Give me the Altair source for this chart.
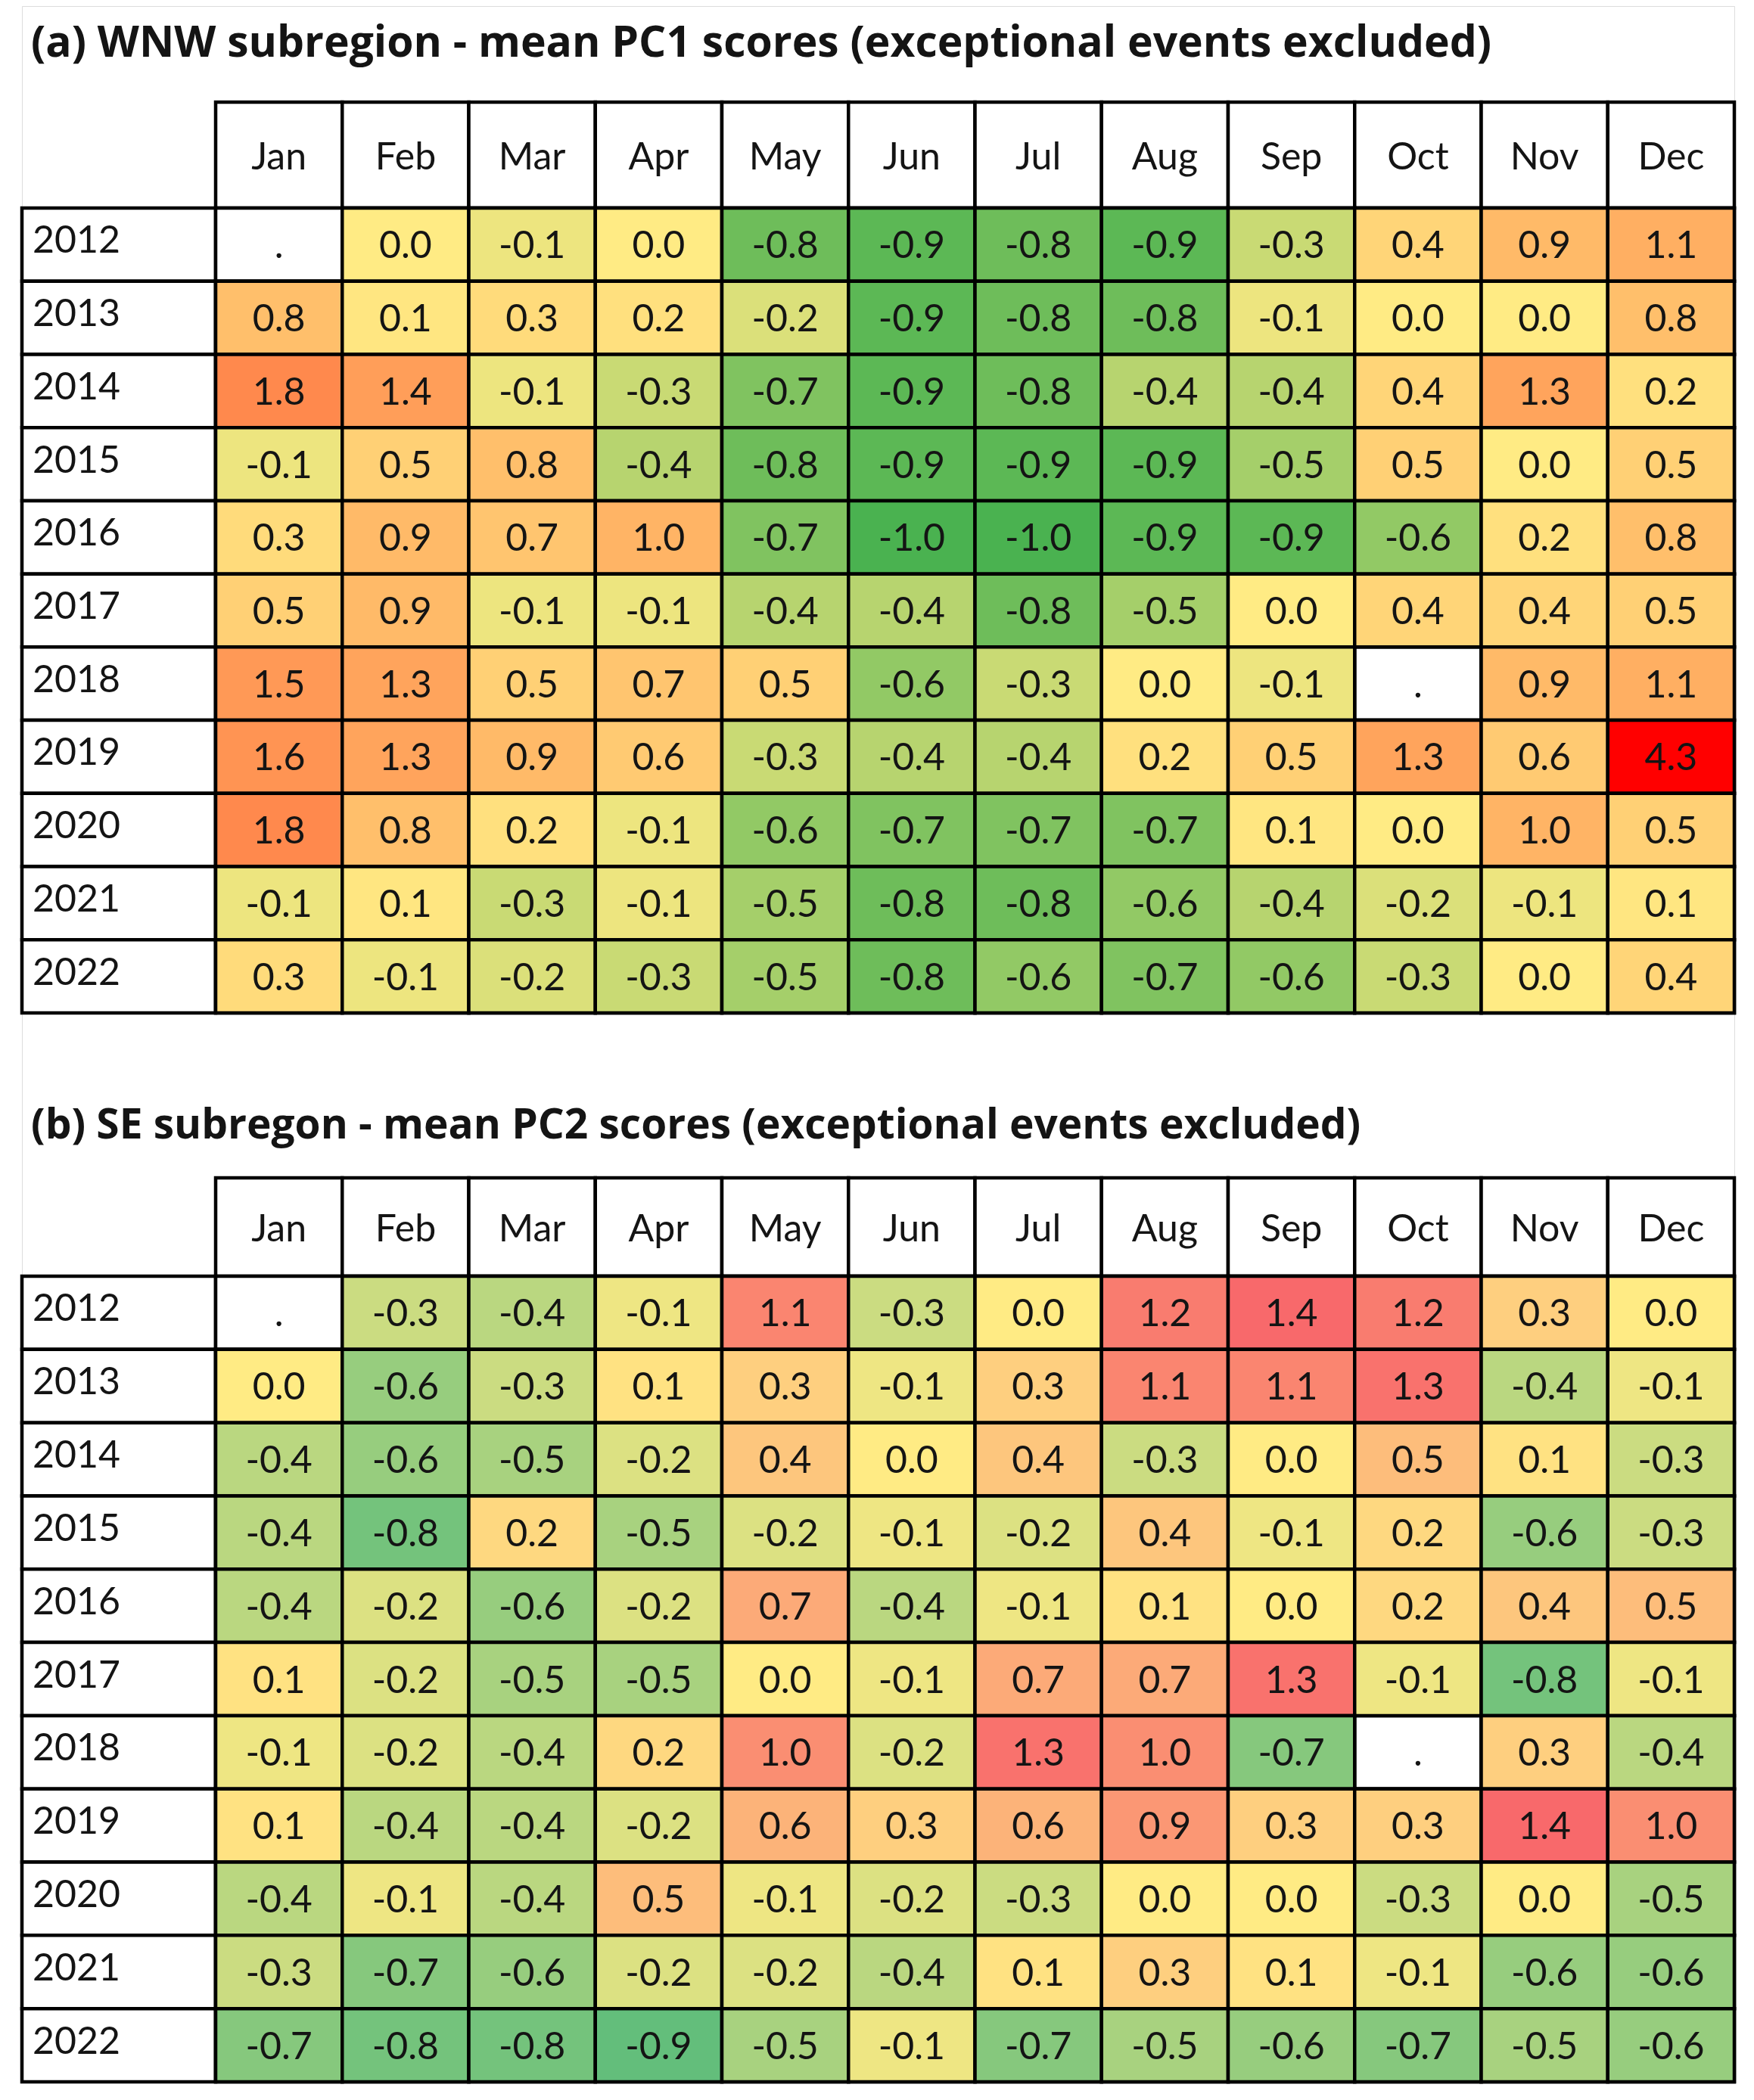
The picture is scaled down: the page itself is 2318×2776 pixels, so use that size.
import altair as alt
import pandas as pd

months = ["Jan", "Feb", "Mar", "Apr", "May", "Jun", "Jul", "Aug", "Sep", "Oct", "Nov", "Dec"]
years = ["2012", "2013", "2014", "2015", "2016", "2017", "2018", "2019", "2020", "2021", "2022"]

title_a = "(a) WNW subregion - mean PC1 scores (exceptional events excluded)"
title_b = "(b) SE subregon - mean PC2 scores (exceptional events excluded)"

# (a) WNW subregion - mean PC1 scores (None = missing, shown as ".")
wnw_2012 = [None, 0.0, -0.1, 0.0, -0.8, -0.9, -0.8, -0.9, -0.3, 0.4, 0.9, 1.1]
wnw_2013 = [0.8, 0.1, 0.3, 0.2, -0.2, -0.9, -0.8, -0.8, -0.1, 0.0, 0.0, 0.8]
wnw_2014 = [1.8, 1.4, -0.1, -0.3, -0.7, -0.9, -0.8, -0.4, -0.4, 0.4, 1.3, 0.2]
wnw_2015 = [-0.1, 0.5, 0.8, -0.4, -0.8, -0.9, -0.9, -0.9, -0.5, 0.5, 0.0, 0.5]
wnw_2016 = [0.3, 0.9, 0.7, 1.0, -0.7, -1.0, -1.0, -0.9, -0.9, -0.6, 0.2, 0.8]
wnw_2017 = [0.5, 0.9, -0.1, -0.1, -0.4, -0.4, -0.8, -0.5, 0.0, 0.4, 0.4, 0.5]
wnw_2018 = [1.5, 1.3, 0.5, 0.7, 0.5, -0.6, -0.3, 0.0, -0.1, None, 0.9, 1.1]
wnw_2019 = [1.6, 1.3, 0.9, 0.6, -0.3, -0.4, -0.4, 0.2, 0.5, 1.3, 0.6, 4.3]
wnw_2020 = [1.8, 0.8, 0.2, -0.1, -0.6, -0.7, -0.7, -0.7, 0.1, 0.0, 1.0, 0.5]
wnw_2021 = [-0.1, 0.1, -0.3, -0.1, -0.5, -0.8, -0.8, -0.6, -0.4, -0.2, -0.1, 0.1]
wnw_2022 = [0.3, -0.1, -0.2, -0.3, -0.5, -0.8, -0.6, -0.7, -0.6, -0.3, 0.0, 0.4]

# (b) SE subregion - mean PC2 scores
se_2012 = [None, -0.3, -0.4, -0.1, 1.1, -0.3, 0.0, 1.2, 1.4, 1.2, 0.3, 0.0]
se_2013 = [0.0, -0.6, -0.3, 0.1, 0.3, -0.1, 0.3, 1.1, 1.1, 1.3, -0.4, -0.1]
se_2014 = [-0.4, -0.6, -0.5, -0.2, 0.4, 0.0, 0.4, -0.3, 0.0, 0.5, 0.1, -0.3]
se_2015 = [-0.4, -0.8, 0.2, -0.5, -0.2, -0.1, -0.2, 0.4, -0.1, 0.2, -0.6, -0.3]
se_2016 = [-0.4, -0.2, -0.6, -0.2, 0.7, -0.4, -0.1, 0.1, 0.0, 0.2, 0.4, 0.5]
se_2017 = [0.1, -0.2, -0.5, -0.5, 0.0, -0.1, 0.7, 0.7, 1.3, -0.1, -0.8, -0.1]
se_2018 = [-0.1, -0.2, -0.4, 0.2, 1.0, -0.2, 1.3, 1.0, -0.7, None, 0.3, -0.4]
se_2019 = [0.1, -0.4, -0.4, -0.2, 0.6, 0.3, 0.6, 0.9, 0.3, 0.3, 1.4, 1.0]
se_2020 = [-0.4, -0.1, -0.4, 0.5, -0.1, -0.2, -0.3, 0.0, 0.0, -0.3, 0.0, -0.5]
se_2021 = [-0.3, -0.7, -0.6, -0.2, -0.2, -0.4, 0.1, 0.3, 0.1, -0.1, -0.6, -0.6]
se_2022 = [-0.7, -0.8, -0.8, -0.9, -0.5, -0.1, -0.7, -0.5, -0.6, -0.7, -0.5, -0.6]

wnw_rows = [wnw_2012, wnw_2013, wnw_2014, wnw_2015, wnw_2016, wnw_2017,
            wnw_2018, wnw_2019, wnw_2020, wnw_2021, wnw_2022]
se_rows = [se_2012, se_2013, se_2014, se_2015, se_2016, se_2017,
           se_2018, se_2019, se_2020, se_2021, se_2022]

FONT = "Lato"
TFONT = "Open Sans"
FS = 50
SW = 4.5
TXT = "#141414"
YEAR_W = 256
TOTAL_W = 2263
TOTAL_H = 2744


def long_df(rows):
    recs = []
    for y, vals in zip(years, rows):
        for m, v in zip(months, vals):
            recs.append({"year": y, "month": m, "value": v,
                         "label": "." if v is None else f"{v:.1f}"})
    return pd.DataFrame(recs)


def bscale(domain, rng):
    return alt.Scale(domain=domain, range=rng, paddingInner=0, paddingOuter=0)


def table_layers(rows, dom, rng, hdr_range, body_range, title, base_y, tsize):
    df = long_df(rows)
    xm = alt.X("month:N", axis=None, scale=bscale(months, [YEAR_W, TOTAL_W]))
    yy = alt.Y("year:N", axis=None, scale=bscale(years, body_range))
    xcol = alt.X("col:N", axis=None, scale=bscale(["year"], [0, YEAR_W]))
    yhdr = alt.Y("row:N", axis=None, scale=bscale(["header"], hdr_range))

    ttl = alt.Chart(pd.DataFrame({"t": [title]})).mark_text(
        align="left", baseline="alphabetic", font=TFONT, fontSize=tsize,
        fontWeight="bold", color=TXT
    ).encode(text="t:N", x=alt.value(12), y=alt.value(base_y))

    hdf = pd.DataFrame({"month": months, "row": ["header"] * len(months)})
    hb = alt.Chart(hdf).encode(x=xm, y=yhdr)
    hdr_rect = hb.mark_rect(fill="white", stroke="black", strokeWidth=SW)
    hdr_text = hb.mark_text(font=FONT, fontSize=FS, color=TXT, dy=4).encode(text="month:N")

    ydf = pd.DataFrame({"year": years, "col": ["year"] * len(years)})
    yr_rect = alt.Chart(ydf).mark_rect(fill="white", stroke="black", strokeWidth=SW).encode(
        x=xcol, y=yy)
    yr_text = alt.Chart(ydf).mark_text(
        font=FONT, fontSize=FS, color=TXT, align="left", dy=-4).encode(
        x=alt.value(14), y=yy, text="year:N")

    gb = alt.Chart(df).encode(x=xm, y=yy)
    cell_white = gb.mark_rect(fill="white", stroke="black", strokeWidth=SW)
    cell_color = gb.transform_filter("isValid(datum.value)").mark_rect(
        stroke="black", strokeWidth=SW).encode(
        color=alt.Color("value:Q", legend=None,
                        scale=alt.Scale(domain=dom, range=rng, interpolate="rgb")))
    cell_text = gb.mark_text(font=FONT, fontSize=FS, color=TXT, dy=3).encode(text="label:N")

    return [ttl, hdr_rect, hdr_text, yr_rect, yr_text, cell_white, cell_color, cell_text]


layers_a = table_layers(wnw_rows, [-1.0, 0, 4.3], ["#4AB250", "#FFEB84", "#FF0000"],
                        [127, 267], [267, 1331], title_a, 67, 57)
layers_b = table_layers(se_rows, [-0.9, 0, 1.4], ["#63BE7B", "#FFEB84", "#F8696B"],
                        [1549, 1679], [1679, 2744], title_b, 1497, 55)

chart = alt.layer(*layers_a, *layers_b).resolve_scale(
    x="independent", y="independent", color="independent"
).properties(
    width=TOTAL_W, height=TOTAL_H,
    padding={"left": 21, "top": 0, "right": 10, "bottom": 10},
    autosize=alt.AutoSizeParams(type="none"),
).configure_view(strokeWidth=0).configure(background="white")

chart.save("out.html", embed_options={"renderer": "svg", "actions": False})
